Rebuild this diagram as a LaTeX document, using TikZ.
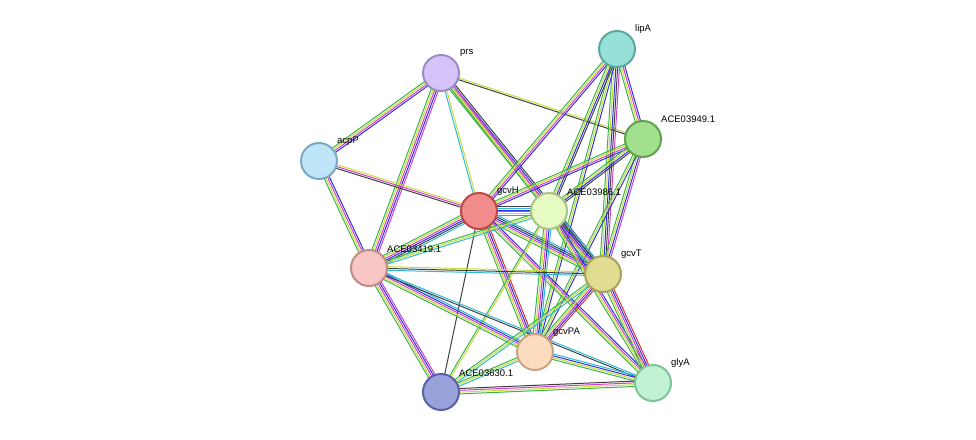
\documentclass[tikz,border=0pt]{standalone}
\usepackage{fontspec}
\setmainfont{Liberation Sans}
\usetikzlibrary{calc}
\definecolor{cg}{HTML}{3CB44B}
\definecolor{cr}{HTML}{E03030}
\definecolor{cb}{HTML}{3030E0}
\definecolor{cc}{HTML}{30B8D8}
\definecolor{cm}{HTML}{D040D0}
\definecolor{cy}{HTML}{C8DC3C}
\definecolor{ck}{HTML}{404040}
\definecolor{fA}{HTML}{96E0D8}\definecolor{dA}{HTML}{5AA89E}
\definecolor{fB}{HTML}{D4C4FA}\definecolor{dB}{HTML}{9C8CC4}
\definecolor{fC}{HTML}{A2E08E}\definecolor{dC}{HTML}{5EA24E}
\definecolor{fD}{HTML}{BEE6F8}\definecolor{dD}{HTML}{7CA8C0}
\definecolor{fE}{HTML}{F08C8C}\definecolor{dE}{HTML}{C04848}
\definecolor{fF}{HTML}{E6FCC2}\definecolor{dF}{HTML}{A8C488}
\definecolor{fG}{HTML}{F8C6C4}\definecolor{dG}{HTML}{C08C8A}
\definecolor{fH}{HTML}{E0DC92}\definecolor{dH}{HTML}{A8A25A}
\definecolor{fI}{HTML}{FCDCBC}\definecolor{dI}{HTML}{C8A484}
\definecolor{fJ}{HTML}{9AA2DC}\definecolor{dJ}{HTML}{5A62A4}
\definecolor{fK}{HTML}{C2F2D4}\definecolor{dK}{HTML}{7CC49A}
\tikzset{
  prot/.style 2 args={draw=#2,fill=#1,circle,minimum size=36pt,inner sep=0pt,line width=2pt},
  lbl/.style={font=\fontsize{9.5}{11}\selectfont,inner sep=1pt,anchor=south west}
}
% bundle of coloured parallel lines between two nodes
\newcommand\bund[3]{%
  \foreach \c [count=\i] in {#3} {\xdef\nb{\i}}%
  \foreach \c [count=\i] in {#3} {%
    \pgfmathsetmacro\off{(\i-(\nb+1)/2)*1.8}%
    \draw[draw=\c,line width=1pt] ($(#1)!\off pt!90:(#2)$) -- ($(#2)!\off pt!-90:(#1)$);
  }}
\begin{document}
\begin{tikzpicture}[x=1pt,y=-1pt]
  \useasboundingbox (0,0) rectangle (976,439);
  % node centres
  \coordinate (lipA) at (617,49);
  \coordinate (prs) at (441,73);
  \coordinate (a949) at (643,139);
  \coordinate (acpP) at (319,161);
  \coordinate (gcvH) at (479,211);
  \coordinate (a986) at (549,211);
  \coordinate (a419) at (369,268);
  \coordinate (gcvT) at (603,274);
  \coordinate (gcvPA) at (535,352);
  \coordinate (a630) at (441,392);
  \coordinate (glyA) at (653,383);

  % edges
  \bund{prs}{acpP}{cg,cy,cm,cb}
  \bund{prs}{a419}{cg,cy,cm,cb,cm}
  \bund{prs}{a949}{ck,cy}
  \bund{prs}{gcvT}{cg,cy,cm,cb,ck}
  \bund{prs}{a986}{cg,cy,cm}
  \bund{prs}{gcvH}{cc,cy}
  \bund{acpP}{a419}{cg,cy,cm,cb}
  \bund{acpP}{gcvH}{ck,cm,cy}
  \bund{lipA}{a949}{cg,cy,cm,cb}
  \bund{lipA}{gcvT}{cg,cy,cb,ck,cm}
  \bund{lipA}{gcvPA}{cg,cy,cb}
  \bund{lipA}{gcvH}{cg,cy,cm,cb}
  \bund{lipA}{a986}{cg,cy,cb,ck}
  \bund{a949}{gcvT}{cg,cy,cb,cm}
  \bund{a949}{gcvPA}{cg,cy,cb}
  \bund{a949}{gcvH}{cg,cy,cm,cb}
  \bund{a949}{a986}{cg,cy,cb,ck}
  \bund{gcvH}{a986}{cg,cy,cm,cb,cc,ck}
  \bund{gcvH}{a419}{cg,cy,cm,cb,ck,cc}
  \bund{gcvH}{gcvT}{cg,cy,cm,cb,ck,cc}
  \bund{gcvH}{gcvPA}{cg,cy,cm,cb,cr}
  \bund{gcvH}{glyA}{cg,cy,cm,cb}
  \bund{gcvH}{a630}{ck}
  \bund{a986}{a419}{cg,cy,cc}
  \bund{a986}{gcvT}{cg,cy,cm,cb,ck,cc}
  \bund{a986}{gcvPA}{cg,cy,cm,cb,cc}
  \bund{a986}{glyA}{cg,cy,cm,cb}
  \bund{a986}{a630}{cg,cy}
  \bund{a419}{gcvT}{cc,ck,cy}
  \bund{a419}{gcvPA}{cg,cy,cm,cb,cc}
  \bund{a419}{a630}{cg,cy,cm,cb,cm}
  \bund{a419}{glyA}{ck,cc}
  \bund{gcvT}{gcvPA}{cg,cy,cm,cb,cr}
  \bund{gcvT}{glyA}{cg,cy,cm,cb,cr}
  \bund{gcvT}{a630}{cg,cy,cc}
  \bund{gcvPA}{glyA}{cg,cy,cb,cc}
  \bund{gcvPA}{a630}{cg,cy,cc}
  \bund{a630}{glyA}{cg,cy,cm,ck}

  % proteins
  \node[prot={fA}{dA}] (n1) at (lipA) {};
  \node[prot={fB}{dB}] (n2) at (prs) {};
  \node[prot={fC}{dC}] (n3) at (a949) {};
  \node[prot={fD}{dD}] (n4) at (acpP) {};
  \node[prot={fE}{dE}] (n5) at (gcvH) {};
  \node[prot={fF}{dF}] (n6) at (a986) {};
  \node[prot={fG}{dG}] (n7) at (a419) {};
  \node[prot={fH}{dH}] (n8) at (gcvT) {};
  \node[prot={fI}{dI}] (n9) at (gcvPA) {};
  \node[prot={fJ}{dJ}] (n10) at (a630) {};
  \node[prot={fK}{dK}] (n11) at (glyA) {};

  % labels
  \node[lbl] (l1) at (634,35) {lipA};
  \node[lbl] (l2) at (459,58) {prs};
  \node[lbl] (l3) at (660,124) {ACE03949.1};
  \node[lbl] (l4) at (336,147) {acpP};
  \node[lbl] (l5) at (496,197) {gcvH};
  \node[lbl] (l6) at (566,197) {ACE03986.1};
  \node[lbl] (l7) at (386,254) {ACE03419.1};
  \node[lbl] (l8) at (620,260) {gcvT};
  \node[lbl] (l9) at (552,338) {gcvPA};
  \node[lbl] (l10) at (458,378) {ACE03630.1};
  \node[lbl] (l11) at (670,369) {glyA};
\end{tikzpicture}
\end{document}
